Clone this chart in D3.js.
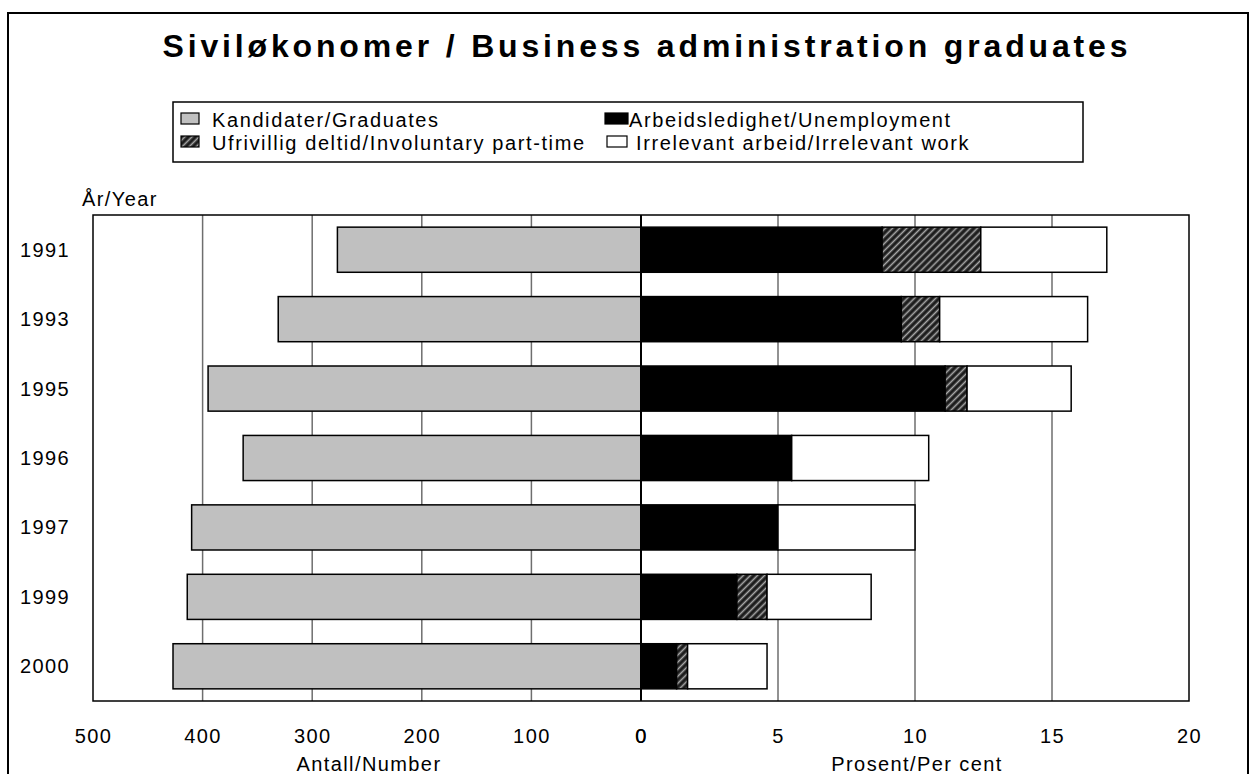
<!DOCTYPE html>
<html>
<head>
	<meta charset="utf-8">
	<title>Siviløkonomer</title>
	<style>
		body { margin: 0; background: #fff; }
		text { font-family: "Liberation Sans", Arial, sans-serif; fill: #000; }
	</style>
</head>
<body>
	<script src="https://d3js.org/d3.v7.min.js"></script> <!-- d3 library -->

<script>

	// data
	var years = ["1991", "1993", "1995", "1996", "1997", "1999", "2000"];
	var graduates = [277, 331, 395, 363, 410, 414, 427];          // Antall/Number
	var unemployment = [8.8, 9.5, 11.1, 5.5, 5.0, 3.5, 1.3];      // per cent
	var partTime = [3.6, 1.4, 0.8, 0, 0, 1.1, 0.4];               // per cent
	var irrelevant = [4.6, 5.4, 3.8, 5.0, 5.0, 3.8, 2.9];         // per cent

	var leftTicks = [500, 400, 300, 200, 100, 0];
	var rightTicks = [0, 5, 10, 15, 20];

	var legendLabels = ["Kandidater/Graduates", "Arbeidsledighet/Unemployment",
		"Ufrivillig deltid/Involuntary part-time", "Irrelevant arbeid/Irrelevant work"];

	var width = 1256,
		height = 774,
		plotLeft = 93,
		plotMid = 641,
		plotRight = 1189,
		plotTop = 215,
		plotBottom = 701,
		greyFill = "#c0c0c0",
		gridColor = "#6e6e6e",
		fontSize = 20,
		spacing = 1.6;

	var svg = d3.select("body")
		.append("svg")
		.attr("width", width)
		.attr("height", height);

	// hatch pattern for part-time
	var defs = svg.append("defs");
	var pat = defs.append("pattern")
		.attr("id", "hatch")
		.attr("patternUnits", "userSpaceOnUse")
		.attr("width", 5)
		.attr("height", 5)
		.attr("patternTransform", "rotate(45)");
	pat.append("rect").attr("width", 5).attr("height", 5).attr("fill", "#1c1c1c");
	pat.append("line")
		.attr("x1", 2.5).attr("y1", 0).attr("x2", 2.5).attr("y2", 5)
		.attr("stroke", "#a8a8a8").attr("stroke-width", 1.6);

	// outer frame
	svg.append("rect")
		.attr("x", 8).attr("y", 13)
		.attr("width", 1240).attr("height", 800)
		.attr("fill", "none")
		.attr("stroke", "#000")
		.attr("stroke-width", 2);

	// title
	svg.append("text")
		.attr("x", 645)
		.attr("y", 57)
		.attr("text-anchor", "middle")
		.attr("font-size", 32)
		.attr("font-weight", "bold")
		.attr("textLength", 965)
		.attr("lengthAdjust", "spacing")
		.text("Siviløkonomer / Business administration graduates");

	// scales
	var xLeft = d3.scaleLinear().domain([500, 0]).range([plotLeft, plotMid]);
	var xRight = d3.scaleLinear().domain([0, 20]).range([plotMid, plotRight]);
	var y = d3.scaleBand()
		.domain(years)
		.range([plotTop, plotBottom])
		.paddingInner(0.35)
		.paddingOuter(0.175);

	// gridlines
	svg.append("g").selectAll("line")
		.data(leftTicks.filter(function (d) { return d > 0 && d < 500; }))
		.enter().append("line")
		.attr("x1", function (d) { return xLeft(d); })
		.attr("x2", function (d) { return xLeft(d); })
		.attr("y1", plotTop).attr("y2", plotBottom)
		.attr("stroke", gridColor).attr("stroke-width", 1.5);

	svg.append("g").selectAll("line")
		.data(rightTicks.filter(function (d) { return d > 0 && d < 20; }))
		.enter().append("line")
		.attr("x1", function (d) { return xRight(d); })
		.attr("x2", function (d) { return xRight(d); })
		.attr("y1", plotTop).attr("y2", plotBottom)
		.attr("stroke", gridColor).attr("stroke-width", 1.5);

	// plot border
	svg.append("rect")
		.attr("x", plotLeft).attr("y", plotTop)
		.attr("width", plotRight - plotLeft)
		.attr("height", plotBottom - plotTop)
		.attr("fill", "none")
		.attr("stroke", "#000")
		.attr("stroke-width", 1.5);

	// graduates bars (left)
	svg.append("g").selectAll("rect")
		.data(years)
		.enter().append("rect")
		.attr("x", function (d, i) { return xLeft(graduates[i]); })
		.attr("y", function (d) { return y(d); })
		.attr("width", function (d, i) { return xLeft(0) - xLeft(graduates[i]); })
		.attr("height", y.bandwidth())
		.attr("fill", greyFill)
		.attr("stroke", "#000")
		.attr("stroke-width", 1.5);

	// stacked percent bars (right)
	var series = [
		{ values: unemployment, fill: "#000" },
		{ values: partTime, fill: "url(#hatch)" },
		{ values: irrelevant, fill: "#fff" }
	];

	years.forEach(function (yr, i) {
		var start = 0;
		series.forEach(function (s) {
			var v = s.values[i];
			if (v > 0) {
				svg.append("rect")
					.attr("x", xRight(start))
					.attr("y", y(yr))
					.attr("width", xRight(start + v) - xRight(start))
					.attr("height", y.bandwidth())
					.attr("fill", s.fill)
					.attr("stroke", "#000")
					.attr("stroke-width", 1.5);
			}
			start += v;
		});
	});

	// zero line
	svg.append("line")
		.attr("x1", plotMid).attr("x2", plotMid)
		.attr("y1", plotTop).attr("y2", plotBottom)
		.attr("stroke", "#000").attr("stroke-width", 2);

	// year labels
	svg.append("g").selectAll("text")
		.data(years)
		.enter().append("text")
		.attr("x", 20)
		.attr("y", function (d) { return y(d) + y.bandwidth() / 2; })
		.attr("dy", "0.35em")
		.attr("font-size", fontSize)
		.attr("letter-spacing", 1.4)
		.text(function (d) { return d; });

	svg.append("text")
		.attr("x", 82).attr("y", 206)
		.attr("font-size", fontSize)
		.attr("letter-spacing", 1.4)
		.text("År/Year");

	// bottom axes
	var axLeft = svg.append("g")
		.attr("transform", "translate(0," + plotBottom + ")")
		.call(d3.axisBottom(xLeft).tickValues(leftTicks).tickSize(0).tickPadding(28).tickFormat(d3.format("d")));
	var axRight = svg.append("g")
		.attr("transform", "translate(0," + plotBottom + ")")
		.call(d3.axisBottom(xRight).tickValues(rightTicks).tickSize(0).tickPadding(28).tickFormat(d3.format("d")));

	[axLeft, axRight].forEach(function (ax) {
		ax.select(".domain").remove();
		ax.selectAll("text")
			.attr("font-size", fontSize)
			.attr("letter-spacing", 1.4)
			.attr("font-family", "Liberation Sans, Arial, sans-serif")
			.attr("fill", "#000");
	});

	svg.append("text")
		.attr("x", (plotLeft + plotMid) / 2 + 2).attr("y", 771)
		.attr("text-anchor", "middle")
		.attr("font-size", fontSize)
		.attr("letter-spacing", 1.4)
		.text("Antall/Number");

	svg.append("text")
		.attr("x", (plotMid + plotRight) / 2 + 2).attr("y", 771)
		.attr("text-anchor", "middle")
		.attr("font-size", fontSize)
		.attr("letter-spacing", 1.4)
		.text("Prosent/Per cent");

	// legend
	var legend = svg.append("g");
	legend.append("rect")
		.attr("x", 173).attr("y", 102)
		.attr("width", 910).attr("height", 60)
		.attr("fill", "#fff")
		.attr("stroke", "#000")
		.attr("stroke-width", 1.5);

	var legendItems = [
		{ label: legendLabels[0], fill: greyFill, sx: 181, sw: 18, tx: 212, ty: 127 },
		{ label: legendLabels[1], fill: "#000", sx: 605, sw: 23, tx: 629, ty: 127 },
		{ label: legendLabels[2], fill: "url(#hatch)", sx: 181, sw: 18, tx: 212, ty: 150 },
		{ label: legendLabels[3], fill: "#fff", sx: 607, sw: 20, tx: 636, ty: 150 }
	];

	legendItems.forEach(function (d) {
		legend.append("rect")
			.attr("x", d.sx).attr("y", d.ty - 14)
			.attr("width", d.sw).attr("height", 11)
			.attr("fill", d.fill)
			.attr("stroke", "#000")
			.attr("stroke-width", 1.2);
		legend.append("text")
			.attr("x", d.tx).attr("y", d.ty)
			.attr("font-size", fontSize)
			.attr("letter-spacing", spacing)
			.text(d.label);
	});

</script>
</body>
</html>
